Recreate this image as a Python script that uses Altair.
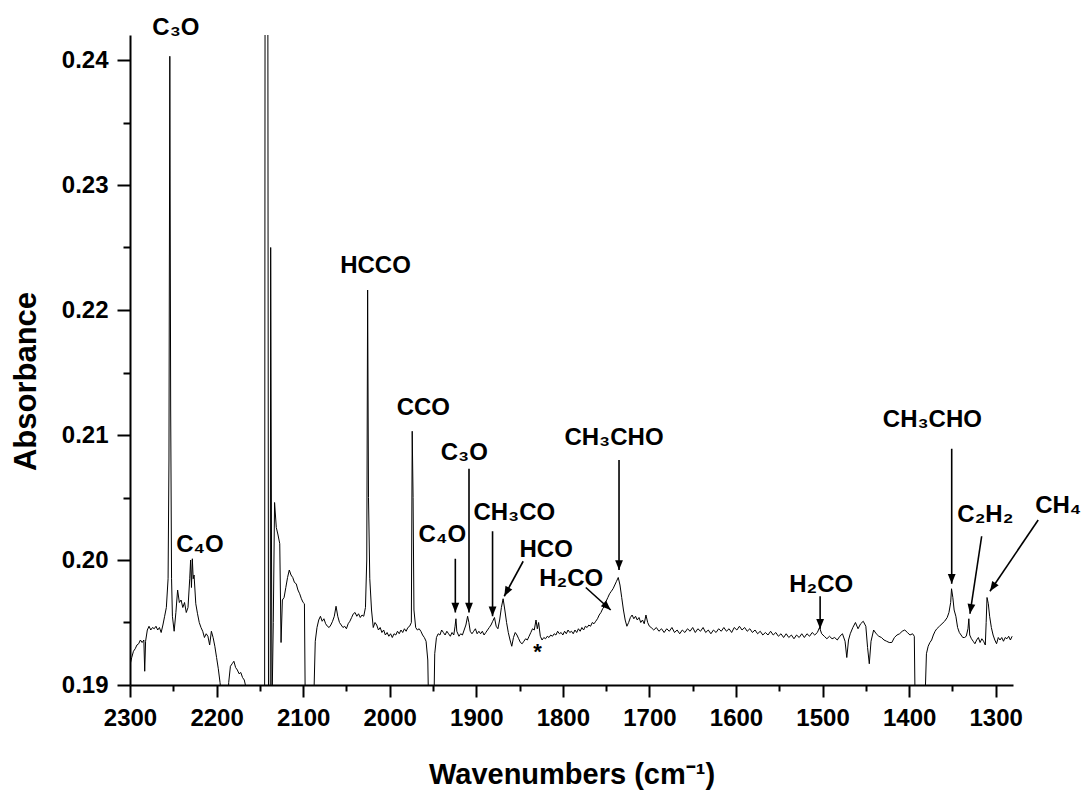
import math
import altair as alt
import pandas as pd

# ---------------- spectrum ----------------
wn = [2300, 2298, 2296, 2294, 2292, 2290, 2288, 2286, 2284, 2283, 2282, 2280, 2278, 2276, 2274, 2272, 2270,
      2268, 2266, 2264, 2262, 2260, 2258, 2256, 2255, 2254, 2253, 2252, 2251, 2249, 2247, 2245, 2243, 2241,
      2239, 2237, 2235, 2233, 2231, 2230, 2229, 2228, 2227, 2226, 2224, 2222, 2220, 2218, 2216, 2214, 2212,
      2210, 2208, 2206, 2204, 2202, 2200, 2198, 2196, 2194, 2190, 2187, 2186, 2184, 2182, 2180, 2178, 2176,
      2174, 2172, 2170, 2168, 2166, 2164, 2155, 2147, 2144.5, 2143.5, 2141.5, 2140, 2138, 2137.5, 2136,
      2134.5, 2133, 2131, 2129, 2127, 2125.5, 2124, 2122, 2120, 2118, 2116, 2114, 2112, 2110, 2108, 2106,
      2104, 2102, 2100, 2098.5, 2097.5, 2090, 2088, 2086, 2084, 2082, 2080, 2078, 2076, 2074, 2072, 2070,
      2068, 2066, 2064, 2062, 2060, 2058, 2056, 2054, 2052, 2050, 2048, 2046, 2044, 2042, 2040, 2038, 2036,
      2034, 2032, 2030, 2028, 2026.5, 2025.5, 2024.5, 2023, 2021, 2019, 2017, 2015, 2013, 2011, 2009, 2007,
      2005, 2003, 2001, 1999, 1997, 1995, 1993, 1991, 1989, 1987, 1985, 1983, 1981, 1979, 1977, 1975, 1974,
      1973, 1972, 1970, 1968, 1966, 1964, 1962, 1960, 1958, 1956, 1955, 1950, 1949, 1948, 1946, 1944, 1942,
      1940, 1938, 1936, 1934, 1932, 1930, 1928, 1926, 1924.5, 1923.5, 1922.5, 1920, 1918, 1916, 1914, 1912,
      1910, 1908.5, 1907, 1905, 1903, 1901, 1899, 1897, 1895, 1893, 1891, 1889, 1887, 1885, 1883, 1881,
      1879, 1877, 1875, 1873, 1871, 1869, 1867, 1865, 1863, 1861, 1859, 1857, 1855, 1853, 1851, 1849, 1847,
      1845, 1843, 1841, 1839, 1837, 1835, 1833, 1831, 1829.5, 1828, 1826, 1824, 1822, 1820, 1818, 1816,
      1814, 1812, 1810, 1808, 1806, 1804, 1802, 1800, 1798, 1796, 1794, 1792, 1790, 1788, 1786, 1784, 1782,
      1780, 1778, 1776, 1774, 1772, 1770, 1768, 1766, 1764, 1762, 1760, 1758, 1756, 1754, 1752, 1750, 1748,
      1746, 1744, 1742, 1740, 1738, 1736, 1734, 1732, 1730, 1728, 1726, 1724, 1722, 1720, 1718, 1716, 1714,
      1712, 1710, 1708, 1706, 1704, 1702, 1700, 1698, 1695, 1692, 1689, 1686, 1683, 1680, 1677, 1674, 1671,
      1668, 1665, 1662, 1659, 1656, 1653, 1650, 1647, 1644, 1641, 1638, 1635, 1632, 1629, 1626, 1623, 1620,
      1617, 1614, 1611, 1608, 1605, 1602, 1599, 1596, 1593, 1590, 1587, 1584, 1581, 1578, 1575, 1572, 1569,
      1566, 1563, 1560, 1557, 1554, 1551, 1548, 1545, 1542, 1539, 1536, 1533, 1530, 1527, 1524, 1521, 1518,
      1515, 1512, 1509, 1506, 1503.5, 1501, 1498, 1495, 1492, 1489, 1486, 1483, 1480, 1477, 1474, 1472,
      1470, 1468, 1465, 1462, 1459, 1456, 1453, 1450, 1448, 1446, 1444, 1441, 1438, 1435, 1432, 1429, 1426,
      1423, 1420, 1417, 1414, 1411, 1408, 1405, 1402, 1399, 1396, 1394, 1393, 1386, 1382, 1380, 1378, 1376,
      1374, 1372, 1370, 1368, 1365, 1362, 1359, 1356, 1354, 1352, 1351, 1349.5, 1348, 1346, 1344, 1342,
      1340, 1338, 1336, 1334, 1332, 1331, 1330, 1328, 1326, 1324, 1322, 1320, 1318, 1316, 1314, 1312, 1311,
      1310, 1308.5, 1307, 1305, 1303, 1301, 1299, 1297, 1295, 1293, 1291, 1289, 1287, 1285, 1283, 1281]

absorb = [0.1916, 0.1922, 0.1927, 0.1929, 0.1932, 0.1933, 0.1936, 0.1934, 0.1936, 0.1911, 0.1935, 0.1944,
          0.1947, 0.1944, 0.1946, 0.1945, 0.1947, 0.1944, 0.1946, 0.1942, 0.1948, 0.1955, 0.1962, 0.1985,
          0.2080, 0.2403, 0.2120, 0.1985, 0.1955, 0.1943, 0.1958, 0.1976, 0.1966, 0.1968, 0.1962, 0.1966,
          0.1958, 0.1962, 0.1985, 0.2000, 0.1978, 0.2001, 0.1985, 0.1988, 0.1965, 0.1957, 0.1950, 0.1946,
          0.1943, 0.1938, 0.1941, 0.1939, 0.1932, 0.1943, 0.1938, 0.1931, 0.1922, 0.1913, 0.1902, 0.1890,
          0.1870, 0.1880, 0.1902, 0.1915, 0.1917, 0.1919, 0.1914, 0.1912, 0.1909, 0.1910, 0.1906, 0.1904,
          0.1898, 0.1885, 0.1860, 0.1860, 0.1880, 0.3000, 0.3000, 0.1880, 0.1870, 0.2250, 0.1880, 0.1950,
          0.2046, 0.2026, 0.2020, 0.2013, 0.1934, 0.1968, 0.1970, 0.1978, 0.1986, 0.1992, 0.1988, 0.1986,
          0.1982, 0.1981, 0.1976, 0.1973, 0.1969, 0.1966, 0.1965, 0.1880, 0.1860, 0.1880, 0.1935, 0.1946,
          0.1952, 0.1955, 0.1951, 0.1953, 0.1949, 0.1947, 0.1946, 0.1948, 0.1951, 0.1955, 0.1963, 0.1955,
          0.1950, 0.1948, 0.1946, 0.1947, 0.1945, 0.1949, 0.1951, 0.1954, 0.1957, 0.1958, 0.1955, 0.1957,
          0.1954, 0.1956, 0.1955, 0.1962, 0.2000, 0.2216, 0.2050, 0.1985, 0.1960, 0.1946, 0.1950, 0.1948,
          0.1944, 0.1946, 0.1942, 0.1944, 0.1940, 0.1942, 0.1939, 0.1941, 0.1938, 0.1941, 0.1940, 0.1943,
          0.1941, 0.1944, 0.1942, 0.1945, 0.1943, 0.1946, 0.1947, 0.1950, 0.2103, 0.2050, 0.1960, 0.1946,
          0.1944, 0.1945, 0.1943, 0.1940, 0.1938, 0.1935, 0.1920, 0.1880, 0.1860, 0.1880, 0.1925, 0.1938,
          0.1941, 0.1940, 0.1944, 0.1942, 0.1940, 0.1943, 0.1941, 0.1939, 0.1942, 0.1940, 0.1947, 0.1953,
          0.1943, 0.1939, 0.1941, 0.1940, 0.1944, 0.1948, 0.1955, 0.1950, 0.1943, 0.1941, 0.1943, 0.1945,
          0.1941, 0.1943, 0.1941, 0.1943, 0.1940, 0.1942, 0.1944, 0.1946, 0.1948, 0.1951, 0.1954, 0.1947,
          0.1945, 0.1952, 0.1962, 0.1969, 0.1960, 0.1950, 0.1942, 0.1936, 0.1931, 0.1938, 0.1942, 0.1940,
          0.1937, 0.1934, 0.1933, 0.1935, 0.1937, 0.1936, 0.1939, 0.1942, 0.1945, 0.1944, 0.1952, 0.1945,
          0.1950, 0.1939, 0.1936, 0.1938, 0.1937, 0.1939, 0.1938, 0.1940, 0.1939, 0.1941, 0.1940, 0.1943,
          0.1941, 0.1942, 0.1940, 0.1943, 0.1941, 0.1944, 0.1942, 0.1943, 0.1941, 0.1944, 0.1942, 0.1945,
          0.1943, 0.1946, 0.1944, 0.1947, 0.1946, 0.1948, 0.1947, 0.1950, 0.1949, 0.1951, 0.1953, 0.1956,
          0.1958, 0.1961, 0.1963, 0.1967, 0.1970, 0.1973, 0.1975, 0.1977, 0.1980, 0.1983, 0.1986, 0.1980,
          0.1970, 0.1960, 0.1952, 0.1947, 0.1950, 0.1954, 0.1956, 0.1953, 0.1955, 0.1952, 0.1954, 0.1950,
          0.1952, 0.1949, 0.1956, 0.1950, 0.1947, 0.1946, 0.1944, 0.1946, 0.1943, 0.1945, 0.1942, 0.1945,
          0.1943, 0.1946, 0.1942, 0.1944, 0.1941, 0.1944, 0.1942, 0.1945, 0.1943, 0.1946, 0.1942, 0.1945,
          0.1943, 0.1946, 0.1942, 0.1944, 0.1941, 0.1944, 0.1942, 0.1945, 0.1943, 0.1946, 0.1943, 0.1945,
          0.1942, 0.1946, 0.1944, 0.1947, 0.1944, 0.1946, 0.1943, 0.1945, 0.1942, 0.1944, 0.1941, 0.1943,
          0.1940, 0.1942, 0.1940, 0.1943, 0.1940, 0.1942, 0.1939, 0.1941, 0.1938, 0.1941, 0.1938, 0.1940,
          0.1937, 0.1940, 0.1938, 0.1941, 0.1938, 0.1941, 0.1939, 0.1942, 0.1940, 0.1942, 0.1946, 0.1941,
          0.1939, 0.1937, 0.1939, 0.1937, 0.1938, 0.1936, 0.1939, 0.1941, 0.1935, 0.1922, 0.1936, 0.1941,
          0.1946, 0.1950, 0.1945, 0.1949, 0.1951, 0.1947, 0.1930, 0.1917, 0.1935, 0.1944, 0.1941, 0.1939,
          0.1938, 0.1936, 0.1935, 0.1934, 0.1934, 0.1938, 0.1940, 0.1941, 0.1943, 0.1944, 0.1942, 0.1940,
          0.1941, 0.1939, 0.1880, 0.1860, 0.1880, 0.1925, 0.1931, 0.1934, 0.1936, 0.1940, 0.1943, 0.1945,
          0.1947, 0.1949, 0.1951, 0.1954, 0.1958, 0.1966, 0.1977, 0.1970, 0.1960, 0.1955, 0.1946, 0.1942,
          0.1940, 0.1938, 0.1938, 0.1939, 0.1945, 0.1953, 0.1940, 0.1937, 0.1935, 0.1933, 0.1936, 0.1938,
          0.1934, 0.1937, 0.1935, 0.1932, 0.1950, 0.1970, 0.1965, 0.1955, 0.1946, 0.1940, 0.1936, 0.1933,
          0.1938, 0.1936, 0.1938, 0.1935, 0.1938, 0.1937, 0.1939, 0.1936, 0.1939]

# ---------------- annotations ----------------
label_text = ["C₃O", "C₄O", "HCCO", "CCO", "C₃O", "C₄O", "CH₃CO", "HCO", "H₂CO", "CH₃CHO",
              "H₂CO", "CH₃CHO", "C₂H₂", "CH₄"]
label_wn = [2247, 2219.3, 2016.4, 1961.1, 1913.8, 1939.2, 1856.1, 1819.3, 1790.4, 1740.9,
            1501.6, 1373.1, 1312.0, 1227.8]
label_ab = [0.2426, 0.2012, 0.2235, 0.2122, 0.2086, 0.2020, 0.2038, 0.2008, 0.1985, 0.2098,
            0.1980, 0.2112, 0.2036, 0.2043]

star_wn = [1829.3]
star_ab = [0.1921]

arrow_wn1 = [1908.4, 1924.2, 1881.2, 1845.8, 1773.5, 1735.1, 1502.8, 1350.8, 1316.2, 1250.9]
arrow_ab1 = [0.2073, 0.2001, 0.2023, 0.1999, 0.1978, 0.2080, 0.1971, 0.2089, 0.2019, 0.2032]
arrow_wn2 = [1908.4, 1924.2, 1881.2, 1867.7, 1744.7, 1735.1, 1502.8, 1350.8, 1329.7, 1306.6]
arrow_ab2 = [0.1958, 0.1958, 0.1955, 0.1971, 0.1960, 0.1992, 0.1945, 0.1981, 0.1957, 0.1975]

X_DOMAIN = [1280, 2300]
Y_DOMAIN = [0.19, 0.242]
W, H = 883, 650

# arrowhead direction in screen space
kx = W / (X_DOMAIN[1] - X_DOMAIN[0])
ky = H / (Y_DOMAIN[1] - Y_DOMAIN[0])
angles = []
for a, b, c, d in zip(arrow_wn1, arrow_ab1, arrow_wn2, arrow_ab2):
    dx = -(c - a) * kx
    dy = -(d - b) * ky
    ang = math.degrees(math.atan2(-dx, dy)) % 360
    angles.append(ang)

spec = pd.DataFrame({"x": wn, "y": absorb})
labels = pd.DataFrame({"x": label_wn, "y": label_ab, "t": label_text})
stars = pd.DataFrame({"x": star_wn, "y": star_ab, "t": ["*"]})
arrows = pd.DataFrame({"x": arrow_wn1, "y": arrow_ab1, "x2": arrow_wn2, "y2": arrow_ab2})
heads = pd.DataFrame({"x": arrow_wn2, "y": arrow_ab2, "angle": angles})

FONT = "Liberation Sans"

x_ticks = list(range(2300, 1299, -50))
y_ticks = [round(0.19 + 0.005 * i, 3) for i in range(11)]

xenc = alt.X(
    "x:Q",
    scale=alt.Scale(domain=X_DOMAIN, reverse=True, nice=False, zero=False),
    axis=alt.Axis(
        title="Wavenumbers (cm⁻¹)",
        values=x_ticks,
        format="d",
        labelExpr="datum.value % 100 === 0 ? datum.label : ''",
        tickSize={"condition": {"test": "datum.value % 100 === 0", "value": 12}, "value": 6},
        labelFlush=False,
        labelOverlap=False,
        grid=False,
        titleY=98,
        titleBaseline="alphabetic",
    ),
)
yenc = alt.Y(
    "y:Q",
    scale=alt.Scale(domain=Y_DOMAIN, nice=False, zero=False),
    axis=alt.Axis(
        title="Absorbance",
        values=y_ticks,
        format=".2f",
        labelExpr="round(datum.value * 1000) % 10 === 0 ? datum.label : ''",
        tickSize={"condition": {"test": "round(datum.value * 1000) % 10 === 0", "value": 13}, "value": 7},
        labelFlush=False,
        labelOverlap=False,
        grid=False,
        titleX=-95,
        titleY=346,
        titleAlign="center",
        titleBaseline="alphabetic",
        titleAngle=270,
    ),
)

line = alt.Chart(spec).transform_window(idx="row_number()").mark_line(
    color="black", strokeWidth=1, clip=True
).encode(x=xenc, y=yenc, order="idx:Q")

text = alt.Chart(labels).mark_text(
    font=FONT, fontSize=24, fontWeight="bold", align="center", baseline="middle", color="black"
).encode(x=xenc, y=yenc, text="t:N")

star = alt.Chart(stars).mark_text(
    font=FONT, fontSize=22, fontWeight="bold", align="center", baseline="alphabetic", color="black"
).encode(x=xenc, y=yenc, text="t:N")

rules = alt.Chart(arrows).mark_rule(color="black", strokeWidth=1.6).encode(
    x=xenc, y=yenc, x2="x2:Q", y2="y2:Q"
)

head_path = "M0,0 L-0.4,-1 L0.4,-1 Z"
arrowheads = alt.Chart(heads).mark_point(
    shape=head_path, filled=True, color="black", size=380, opacity=1, strokeWidth=0
).encode(x=xenc, y=yenc, angle=alt.Angle("angle:Q", scale=None))

chart = (
    alt.layer(line, rules, arrowheads, text, star)
    .properties(
        width=W,
        height=H,
        autosize=alt.AutoSizeParams(type="none"),
        padding={"left": 130, "top": 35, "right": 70, "bottom": 111},
        background="white",
    )
    .configure_view(stroke=None)
    .configure_axis(
        domainColor="black",
        domainWidth=2,
        tickColor="black",
        tickWidth=2,
        labelFont=FONT,
        labelFontSize=24,
        labelFontWeight="bold",
        labelColor="black",
        labelPadding=9,
        titleFont=FONT,
        titleFontWeight="bold",
        titleColor="black",
    )
    .configure_axisX(titleFontSize=29)
    .configure_axisY(titleFontSize=31)
)

chart.save("out.html", embed_options={"renderer": "svg", "actions": False})
